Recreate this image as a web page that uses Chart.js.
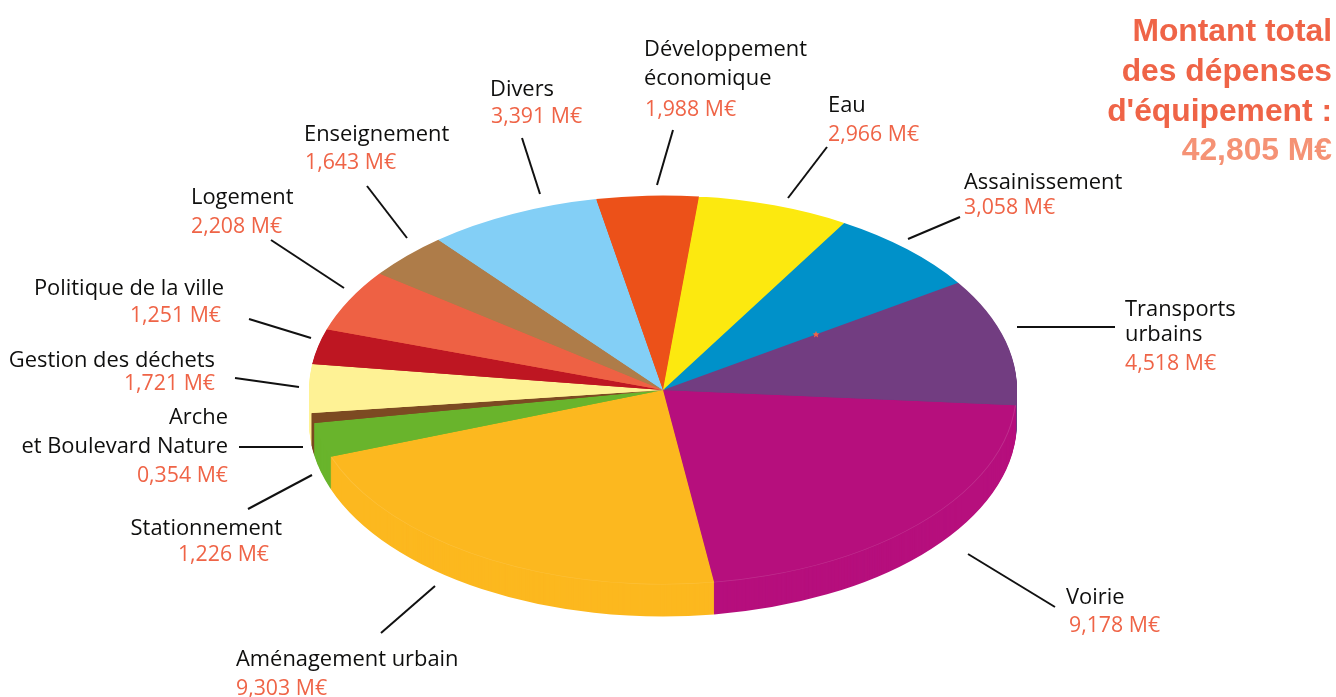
<!DOCTYPE html>
<html lang="fr">
<head>
<meta charset="utf-8">
<title>Dépenses d'équipement</title>
<script src="https://cdn.jsdelivr.net/npm/chart.js@4/dist/chart.umd.min.js"></script>
<style>html,body{margin:0;padding:0;background:#fff}canvas{display:block}</style>
</head>
<body>
<canvas id="c" width="1336" height="697"></canvas>
<script>
// ---- data, clockwise from the first slice
const categories = ["Voirie","Aménagement urbain","Stationnement","Arche et Boulevard Nature","Gestion des déchets","Politique de la ville","Logement","Enseignement","Divers","Développement économique","Eau","Assainissement","Transports urbains"];
const amounts = [9.178,9.303,1.226,0.354,1.721,1.251,2.208,1.643,3.391,1.988,2.966,3.058,4.518];
const sliceColours = ["#B60F7D","#FCB81F","#69B42C","#7C4A22","#FEF295","#BE1622","#EE6144","#AE7C49","#83CFF6","#EC5119","#FCE90F","#0091C9","#723D81"];
const totalLines = ["Montant total","des dépenses","d'équipement :"];
const totalAmount = "42,805 M€";

// ---- page layout
const BODY_FONT = '"Open Sans"';
const NAME_SIZE = 21.9, VALUE_SIZE = 21.3;
const INK = "#0f0f0e", ORANGE = "#EF6447", TOTAL_VALUE = "#F59275";
const PIE = {cx:663, cy:390, rx:354, ry:194.5, depth:32, startDeg:4.5};
// name lines, x, anchor, baseline of each name line, value baseline, value x
const labelLayout = [
 {i:0, lines:["Voirie"], x:1066, a:"left", ys:[604], vy:632, vx:1069},
 {i:1, lines:["Aménagement urbain"], x:236, a:"left", ys:[666], vy:695, vx:236},
 {i:2, lines:["Stationnement"], x:282, a:"right", ys:[535], vy:561, vx:269},
 {i:3, lines:["Arche","et Boulevard Nature"], x:228, a:"right", ys:[424,453], vy:482, vx:228},
 {i:4, lines:["Gestion des déchets"], x:215, a:"right", ys:[367], vy:390, vx:215},
 {i:5, lines:["Politique de la ville"], x:224, a:"right", ys:[295], vy:322, vx:221},
 {i:6, lines:["Logement"], x:191, a:"left", ys:[204], vy:233, vx:191},
 {i:7, lines:["Enseignement"], x:304, a:"left", ys:[141], vy:169, vx:305},
 {i:8, lines:["Divers"], x:490, a:"left", ys:[96], vy:123, vx:491},
 {i:9, lines:["Développement","économique"], x:644, a:"left", ys:[56,85], vy:116, vx:645},
 {i:10, lines:["Eau"], x:828, a:"left", ys:[112], vy:141, vx:828},
 {i:11, lines:["Assainissement"], x:964, a:"left", ys:[189], vy:214, vx:964},
 {i:12, lines:["Transports","urbains"], x:1125, a:"left", ys:[316,341], vy:370, vx:1125}
];
const leaders = [
 [1017,327,1115,327],[968,554,1055,607],[435,586,381,633],[248,509,312,475],
 [239,447,303,447],[235,378,299,387],[249,319,311,338],[271,240,344,288],
 [367,186,407,238],[522,138,540,194],[673,130,657,185],[827,147,788,198],[960,217,908,239]
];

const fmt = v => v.toFixed(3).replace(".",",") + " M€";

function pieTransform(ctx, arc, dy){
  ctx.translate(PIE.cx, PIE.cy + dy);
  ctx.scale(PIE.rx/arc.outerRadius, PIE.ry/arc.outerRadius);
  ctx.translate(-arc.x, -arc.y);
}

const pie3d = {
  id:"pie3d",
  beforeDatasetsDraw(chart){
    const ctx = chart.ctx, arcs = chart.getDatasetMeta(0).data;
    // side wall: the library's own arcs, repeated downward
    for(let d = PIE.depth; d >= 1; d--){
      ctx.save();
      pieTransform(ctx, arcs[0], d);
      for(let k = arcs.length-1; k >= 0; k--) arcs[k].draw(ctx);
      ctx.restore();
    }
    ctx.save();
    pieTransform(ctx, arcs[0], 0);
  },
  afterDatasetsDraw(chart){
    const ctx = chart.ctx, arcs = chart.getDatasetMeta(0).data;
    // faint rim between top and wall
    ctx.beginPath();
    ctx.arc(arcs[0].x, arcs[0].y, arcs[0].outerRadius-0.5, arcs[0].startAngle, arcs[1].endAngle);
    ctx.strokeStyle = "rgba(255,255,255,0.13)";
    ctx.lineWidth = 1;
    ctx.stroke();
    ctx.restore();
  },
  afterDraw(chart){
    const ctx = chart.ctx;
    ctx.save();
    ctx.strokeStyle = "#111"; ctx.lineWidth = 2; ctx.lineCap = "butt";
    leaders.forEach(l => { ctx.beginPath(); ctx.moveTo(l[0],l[1]); ctx.lineTo(l[2],l[3]); ctx.stroke(); });
    ctx.textBaseline = "alphabetic";
    labelLayout.forEach(L => {
      ctx.textAlign = L.a;
      ctx.font = NAME_SIZE + "px " + BODY_FONT;
      ctx.fillStyle = INK;
      L.lines.forEach((t,n) => ctx.fillText(t, L.x, L.ys[n]));
      ctx.font = VALUE_SIZE + "px " + BODY_FONT;
      ctx.fillStyle = ORANGE;
      ctx.fillText(fmt(amounts[L.i]), L.vx, L.vy);
    });
    ctx.textAlign = "right";
    ctx.font = 'bold 31.8px "Liberation Sans"';
    ctx.fillStyle = ORANGE;
    totalLines.forEach((t,n) => ctx.fillText(t, 1332, 41 + n*40));
    ctx.fillStyle = TOTAL_VALUE;
    ctx.fillText(totalAmount, 1332, 160);
    // small star on the slice edge
    ctx.fillStyle = ORANGE;
    ctx.beginPath();
    for(let n=0;n<10;n++){
      const r = n%2 ? 1.6 : 3.6, t = -Math.PI/2 + n*Math.PI/5;
      ctx.lineTo(816 + r*Math.cos(t), 334.5 + r*Math.sin(t));
    }
    ctx.closePath(); ctx.fill();
    ctx.restore();
  }
};

new Chart(document.getElementById("c"), {
  type:"pie",
  data:{labels:categories, datasets:[{data:amounts, backgroundColor:sliceColours, borderWidth:0, hoverOffset:0, clip:false}]},
  options:{
    responsive:false, animation:false, events:[],
    rotation:90 + PIE.startDeg,
    layout:{padding:0},
    plugins:{legend:{display:false}, tooltip:{enabled:false}}
  },
  plugins:[pie3d]
});
</script>
</body>
</html>
